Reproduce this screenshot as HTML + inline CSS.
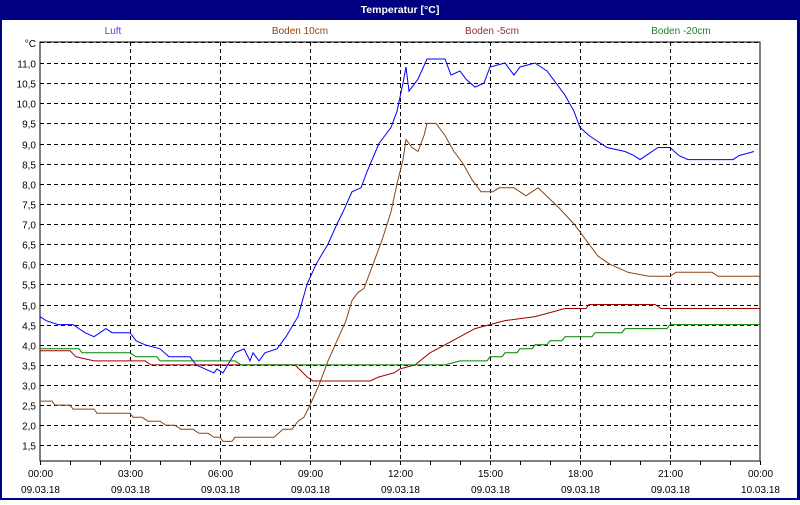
<!DOCTYPE html>
<html><head><meta charset="utf-8"><style>
body{margin:0;width:800px;height:500px;overflow:hidden;background:#fff;font-family:"Liberation Sans",sans-serif}
</style></head><body>
<svg id="s" width="800" height="500" xmlns="http://www.w3.org/2000/svg" font-family="Liberation Sans, sans-serif" font-size="10">
<rect x="0" y="0" width="800" height="500" fill="#000080"/>
<rect x="2" y="20" width="795" height="478" fill="#fff"/>
<text x="400" y="13" fill="#fff" font-weight="bold" text-anchor="middle" font-size="10.5">Temperatur [°C]</text>
<text x="113" y="34" fill="#6040c0" text-anchor="middle">Luft</text>
<text x="300" y="34" fill="#8b4513" text-anchor="middle">Boden 10cm</text>
<text x="492" y="34" fill="#8b3030" text-anchor="middle">Boden -5cm</text>
<text x="681" y="34" fill="#208020" text-anchor="middle">Boden -20cm</text>
<g id="grid"></g>
<rect x="40" y="42" width="720" height="419" fill="none" stroke="#000" stroke-width="1"/>
<g id="lines" fill="none" stroke-width="1"></g>
</svg>
<script>
var ns="http://www.w3.org/2000/svg",g=document.getElementById('grid'),L=document.getElementById('lines');
function el(p,t,a,tx){var e=document.createElementNS(ns,t);for(var k in a)e.setAttribute(k,a[k]);if(tx)e.textContent=tx;p.appendChild(e);return e;}
function Y(v){return 63+(11-v)*40.25;}function X(h){return 40+h*30;}
for(var v=1.5;v<=11.01;v+=0.5){var y=Math.round(Y(v))+0.5;el(g,'line',{x1:40,x2:760,y1:y,y2:y,stroke:'#000','stroke-dasharray':'4,3'});
el(g,'text',{x:36,y:y+4,'text-anchor':'end',fill:'#000'},v.toFixed(1).replace('.',','));}
el(g,'line',{x1:40,x2:760,y1:42.5,y2:42.5,stroke:'#000','stroke-dasharray':'4,3'});
el(g,'text',{x:36,y:47,'text-anchor':'end',fill:'#000'},'°C');
var days=['09.03.18','09.03.18','09.03.18','09.03.18','09.03.18','09.03.18','09.03.18','09.03.18','10.03.18'];
for(var i=0;i<=8;i++){var x=X(i*3)+0.5;if(i>0&&i<8)el(g,'line',{x1:x,x2:x,y1:42,y2:461,stroke:'#000','stroke-dasharray':'4,3'});
var hh=(i*3%24);el(g,'text',{x:x,y:477,'text-anchor':'middle',fill:'#000'},(hh<10?'0':'')+hh+':00');
el(g,'text',{x:x,y:493,'text-anchor':'middle',fill:'#000'},days[i]);}
for(var h=0;h<=24;h++){var x=X(h)+0.5;el(g,'line',{x1:x,x2:x,y1:461,y2:465,stroke:'#000'});}
function P(d,c){var s=d.map(function(p){return X(p[0]).toFixed(1)+','+Y(p[1]).toFixed(1)}).join(' ');el(L,'polyline',{points:s,stroke:c});}
P([[0,4.7],[0.2,4.6],[0.6,4.5],[1.1,4.5],[1.5,4.3],[1.8,4.2],[2,4.3],[2.2,4.4],[2.4,4.3],[3,4.3],[3.2,4.1],[3.5,4.0],[4,3.9],[4.3,3.7],[5,3.7],[5.2,3.5],[5.5,3.4],[5.8,3.3],[5.9,3.4],[6.1,3.3],[6.5,3.8],[6.8,3.9],[7.0,3.6],[7.1,3.8],[7.3,3.6],[7.5,3.8],[7.9,3.9],[8.2,4.2],[8.6,4.7],[8.9,5.5],[9.2,6.0],[9.6,6.5],[9.9,7.0],[10.1,7.3],[10.4,7.8],[10.7,7.9],[10.9,8.3],[11.3,9.0],[11.7,9.4],[11.9,9.8],[12.1,10.5],[12.2,10.9],[12.3,10.3],[12.6,10.6],[12.9,11.1],[13.5,11.1],[13.7,10.7],[14,10.8],[14.2,10.6],[14.5,10.4],[14.8,10.5],[15,10.9],[15.5,11.0],[15.8,10.7],[16,10.9],[16.5,11.0],[16.9,10.8],[17.3,10.4],[17.5,10.2],[17.8,9.8],[18,9.4],[18.3,9.2],[18.9,8.9],[19.5,8.8],[19.8,8.7],[20,8.6],[20.6,8.9],[21,8.9],[21.3,8.7],[21.6,8.6],[23.1,8.6],[23.3,8.7],[23.8,8.8]],'#0000ff');
P([[0,2.6],[0.4,2.6],[0.5,2.5],[1,2.5],[1.1,2.4],[1.8,2.4],[1.9,2.3],[3,2.3],[3.1,2.2],[3.4,2.2],[3.6,2.1],[4,2.1],[4.2,2.0],[4.5,2.0],[4.7,1.9],[5.1,1.9],[5.3,1.8],[5.6,1.8],[5.8,1.7],[6.0,1.7],[6.1,1.6],[6.4,1.6],[6.5,1.7],[7.8,1.7],[8.1,1.9],[8.4,1.9],[8.6,2.1],[8.8,2.2],[9.0,2.5],[9.3,3.0],[9.6,3.6],[9.9,4.1],[10.2,4.6],[10.4,5.1],[10.6,5.3],[10.8,5.4],[11.1,6.0],[11.4,6.6],[11.7,7.3],[11.9,8.0],[12.1,8.6],[12.2,9.1],[12.4,8.9],[12.6,8.8],[12.8,9.2],[12.9,9.5],[13.2,9.5],[13.5,9.2],[13.8,8.8],[14.1,8.5],[14.4,8.1],[14.7,7.8],[15.1,7.8],[15.3,7.9],[15.8,7.9],[16.2,7.7],[16.6,7.9],[17.3,7.4],[17.8,7.0],[18.2,6.6],[18.6,6.2],[19.0,6.0],[19.6,5.8],[20.3,5.7],[21.0,5.7],[21.2,5.8],[22.4,5.8],[22.6,5.7],[24,5.7]],'#8b4513');
P([[0,3.85],[1,3.85],[1.2,3.7],[1.8,3.6],[3.5,3.6],[3.7,3.5],[8.5,3.5],[8.9,3.2],[9.1,3.1],[11,3.1],[11.3,3.2],[11.8,3.3],[12,3.4],[12.5,3.5],[13,3.8],[13.5,4.0],[14,4.2],[14.5,4.4],[15,4.5],[15.5,4.6],[16.5,4.7],[17,4.8],[17.5,4.9],[18.2,4.9],[18.3,5.0],[20.5,5.0],[20.7,4.9],[24,4.9]],'#a00000');
P([[0,3.9],[1.3,3.9],[1.4,3.8],[3,3.8],[3.2,3.7],[3.9,3.7],[4,3.6],[6.5,3.6],[6.7,3.5],[13.5,3.5],[14,3.6],[14.9,3.6],[15,3.7],[15.4,3.7],[15.5,3.8],[15.9,3.8],[16,3.9],[16.4,3.9],[16.5,4.0],[16.9,4.0],[17,4.1],[17.4,4.1],[17.5,4.2],[18.4,4.2],[18.5,4.3],[19.4,4.3],[19.5,4.4],[20.9,4.4],[21,4.5],[24,4.5]],'#008000');
</script>
</body></html>
